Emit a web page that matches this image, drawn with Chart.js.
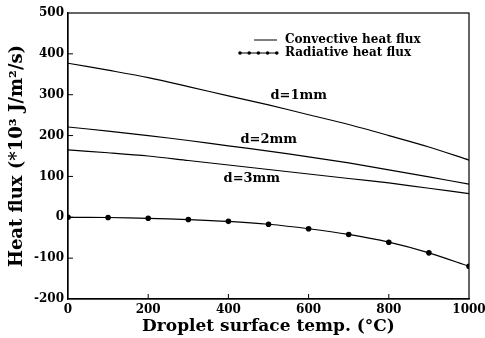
<!DOCTYPE html>
<html>
<head>
<meta charset="utf-8">
<script src="https://cdn.jsdelivr.net/npm/chart.js@4"></script>
<style>
  body { margin: 0; background: #fff; }
  canvas { display: block; }
</style>
</head>
<body>
<canvas id="chart" width="485" height="338"></canvas>
<script>
// surface temperature (°C)
const temps = [0, 100, 200, 300, 400, 500, 600, 700, 800, 900, 1000]

// heat flux values (*10^3 J/m2/s)
const conv1mm = [377, 360, 342, 320, 297, 275, 251, 227, 200, 172, 140]
const conv2mm = [221, 211, 200, 188, 175, 162, 148, 133, 116, 99, 81]
const conv3mm = [165, 158, 150, 139, 128, 117, 106, 95, 84, 71, 58]
const radiative = [0, -0.5, -2.5, -5.5, -10, -17, -28, -42, -61, -87, -120]

const curveLabels = ["d=1mm", "d=2mm", "d=3mm"]
const legendLabels = ["Convective heat flux", "Radiative heat flux"]

const serif = "'DejaVu Serif', 'Liberation Serif', serif"

const toPoints = (ys) => temps.map((t, i) => ({ x: t, y: ys[i] }))

// where the d=.. labels sit, in data units
const labelSpots = [
  { x: 505, y: 297 },
  { x: 430, y: 191 },
  { x: 388, y: 94 },
]

const decorPlugin = {
  id: "decor",
  afterDraw(chart) {
    const ctx = chart.ctx
    const area = chart.chartArea
    const xs = chart.scales.x
    const ys = chart.scales.y
    ctx.save()
    ctx.strokeStyle = "#000"
    ctx.fillStyle = "#000"
    ctx.lineWidth = 1.2
    ctx.strokeRect(area.left, area.top, area.right - area.left, area.bottom - area.top)

    // inward ticks
    ctx.lineWidth = 1
    ctx.beginPath()
    for (let v = 200; v < 1000; v += 200) {
      const px = xs.getPixelForValue(v)
      ctx.moveTo(px, area.bottom)
      ctx.lineTo(px, area.bottom - 5)
    }
    for (let v = -100; v < 500; v += 100) {
      const py = ys.getPixelForValue(v)
      ctx.moveTo(area.left, py)
      ctx.lineTo(area.left + 5, py)
    }
    ctx.stroke()

    // curve labels
    ctx.font = "bold 13px " + serif
    ctx.textBaseline = "middle"
    ctx.textAlign = "left"
    curveLabels.forEach((txt, i) => {
      ctx.fillText(txt, xs.getPixelForValue(labelSpots[i].x), ys.getPixelForValue(labelSpots[i].y))
    })

    // legend
    const lx = area.left + 172
    const ly = area.top + 27
    ctx.font = "bold 12px " + serif
    ctx.lineWidth = 1
    ctx.beginPath()
    ctx.moveTo(lx + 14, ly)
    ctx.lineTo(lx + 37, ly)
    ctx.stroke()
    ctx.fillText(legendLabels[0], lx + 45, ly)
    const ly2 = ly + 13
    ctx.beginPath()
    ctx.moveTo(lx, ly2)
    ctx.lineTo(lx + 37, ly2)
    ctx.stroke()
    for (let k = 0; k < 5; k++) {
      ctx.beginPath()
      ctx.arc(lx + k * 9.2, ly2, 1.8, 0, Math.PI * 2)
      ctx.fill()
    }
    ctx.fillText(legendLabels[1], lx + 45, ly2)
    ctx.restore()
  },
}

const lineStyle = {
  borderColor: "#000",
  backgroundColor: "#000",
  borderWidth: 1.2,
  pointRadius: 0,
  fill: false,
  tension: 0.3,
}

new Chart(document.getElementById("chart").getContext("2d"), {
  type: "line",
  data: {
    datasets: [
      { ...lineStyle, label: curveLabels[0], data: toPoints(conv1mm) },
      { ...lineStyle, label: curveLabels[1], data: toPoints(conv2mm) },
      { ...lineStyle, label: curveLabels[2], data: toPoints(conv3mm) },
      { ...lineStyle, label: legendLabels[1], data: toPoints(radiative), pointRadius: 2.8, pointBorderWidth: 0 },
    ],
  },
  options: {
    responsive: false,
    animation: false,
    layout: { padding: { top: 13, right: 16, left: 0, bottom: 0 } },
    plugins: { legend: { display: false }, tooltip: { enabled: false } },
    scales: {
      x: {
        type: "linear",
        min: 0,
        max: 1000,
        grid: { display: false, drawTicks: false },
        border: { display: true, color: "#000", width: 1.2 },
        ticks: {
          stepSize: 200,
          color: "#000",
          padding: 4,
          maxRotation: 0,
          callback: (v) => String(v),
          font: { family: serif, size: 12, weight: "bold" },
        },
        title: {
          display: true,
          text: "Droplet surface temp. (°C)",
          color: "#000",
          padding: { top: 0, bottom: 1 },
          font: { family: serif, size: 17, weight: "bold" },
        },
        afterFit: (scale) => {
          scale.height = 39
          scale.paddingRight = 0
          scale.paddingLeft = 0
        },
      },
      y: {
        min: -200,
        max: 500,
        grid: { display: false, drawTicks: false },
        border: { display: true, color: "#000", width: 1.2 },
        ticks: { stepSize: 100, color: "#000", padding: 4, font: { family: serif, size: 12, weight: "bold" } },
        title: {
          display: true,
          text: "Heat flux (*10³ J/m²/s)",
          color: "#000",
          padding: { top: 7, bottom: 0 },
          font: { family: serif, size: 18, weight: "bold" },
        },
        afterFit: (scale) => {
          scale.width = 68
          scale.paddingTop = 0
          scale.paddingBottom = 0
        },
      },
    },
  },
  plugins: [decorPlugin],
})
</script>
</body>
</html>
